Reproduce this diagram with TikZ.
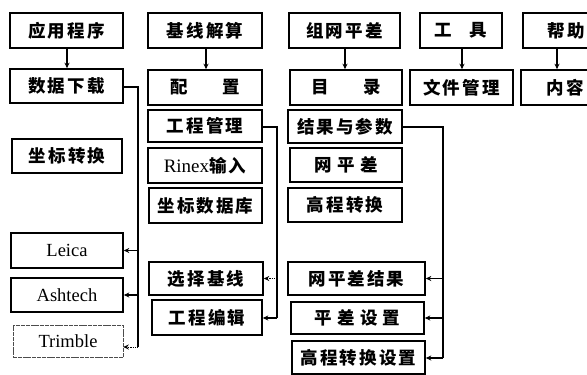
\documentclass[tikz,border=0pt]{standalone}
\usepackage{fontspec}
\usetikzlibrary{arrows.meta}
\newfontfamily\cjk{Noto Sans CJK SC}[LetterSpace=12]
\newfontfamily\lat{Liberation Serif}
\begin{document}
\begin{tikzpicture}[x=1pt,y=-1pt,
  box/.style={draw,line width=1.6pt,inner sep=0pt,font=\cjk\bfseries\fontsize{17.5}{18}\selectfont},
  latbox/.style={draw,line width=1.6pt,inner sep=0pt,font=\lat\fontsize{18.5}{19}\selectfont},
  thinbox/.style={draw=black!70,line width=0.6pt,dash pattern=on 4pt off 0.8pt,inner sep=0pt,font=\lat\fontsize{18.5}{19}\selectfont},
  conn/.style={line width=1.2pt},
  arr/.style={line width=1.2pt,-{Stealth[length=5.5pt,width=5pt]}},
  darr/.style={line width=0.9pt,densely dotted,-{Stealth[length=5.5pt,width=5pt]}}]
\useasboundingbox (0,0) rectangle (587,375);
\clip (0,0) rectangle (587,375);
\newcommand\bx[7][box]{\node[#1,minimum width={#6-#4},minimum height={#7-#5}] (#2) at ({(#4+#6)/2},{(#5+#7)/2}) {#3};}
% column 1
\bx{yy}{应用程序}{10}{13}{123}{48}
\bx{sj}{数据下载}{10}{69}{123}{103}
\bx{zb}{坐标转换}{12}{139}{122}{173}
\bx[latbox]{le}{Leica}{11}{233}{123}{268}
\bx[latbox]{as}{Ashtech}{11}{278}{123}{312}
\bx[thinbox]{tr}{Trimble}{13}{325}{123}{357}
% column 2
\bx{jx}{基线解算}{148}{13}{262}{48}
\bx{pz}{配\hspace{2.0em}置}{148}{70}{262}{105}
\bx{gc}{工程管理}{148}{110}{262}{142}
\bx{rx}{{\lat\mdseries\fontsize{19}{19}\selectfont Rinex}输入}{148}{148}{262}{183}
\bx{zk}{坐标数据库}{149}{188}{262}{223}
\bx{xz}{选择基线}{149}{262}{263}{295}
\bx{bj}{工程编辑}{152}{300}{262}{335}
% column 3
\bx{zw}{组网平差}{289}{13}{400}{48}
\bx{ml}{目\hspace{2.0em}录}{290}{70}{402}{105}
\bx{jg}{结果与参数}{288}{110}{402}{143}
\bx{wp}{网\hspace{0.3em}平\hspace{0.3em}差}{290}{148}{402}{182}
\bx{gz}{高程转换}{288}{188}{402}{222}
\bx{wj}{网平差结果}{288}{262}{425}{295}
\bx{ps}{平\hspace{0.3em}差\hspace{0.3em}设\hspace{0.3em}置}{291}{302}{424}{334}
\bx{gs}{高程转换设置}{292}{341}{425}{374}
% column 4,5
\bx{gj}{工\hspace{1.0em}具}{420}{13}{502}{48}
\bx{wg}{文件管理}{410}{70}{513}{105}
\bx{bz}{帮助}{523}{13}{610}{48}
\bx{nr}{内容}{521}{70}{610}{105}
% down arrows
\draw[arr] (yy.south -| 67,0) -- (sj.north -| 67,0);
\draw[arr] (jx.south -| 206,0) -- (pz.north -| 206,0);
\draw[arr] (zw.south -| 345,0) -- (ml.north -| 345,0);
\draw[arr] (gj.south -| 462,0) -- (wg.north -| 462,0);
\draw[arr] (bz.south -| 557,0) -- (nr.north -| 557,0);
% branch 1
\coordinate (a1) at (138,87);
\coordinate (a2) at (138,347);
\draw[conn] (sj.east |- a1) -- (a1) -- (a2);
\draw[arr] (le.east -| a1) -- (le.east);
\draw[arr] (as.east -| a1) -- (as.east);
\draw[darr] (a2) -- (tr.east |- a2);
% branch 2
\coordinate (b1) at (277,127);
\coordinate (b2) at (277,318);
\draw[conn] (gc.east |- b1) -- (b1) -- (b2);
\draw[darr] (xz.east -| b1) -- (xz.east);
\draw[arr] (b2) -- (bj.east |- b2);
% branch 3
\coordinate (c1) at (443,127);
\coordinate (c2) at (443,358);
\draw[conn] (jg.east |- c1) -- (c1) -- (c2);
\draw[arr] (wj.east -| c1) -- (wj.east);
\draw[arr] (ps.east -| c1) -- (ps.east);
\draw[arr] (c2) -- (gs.east |- c2);
\end{tikzpicture}
\end{document}
